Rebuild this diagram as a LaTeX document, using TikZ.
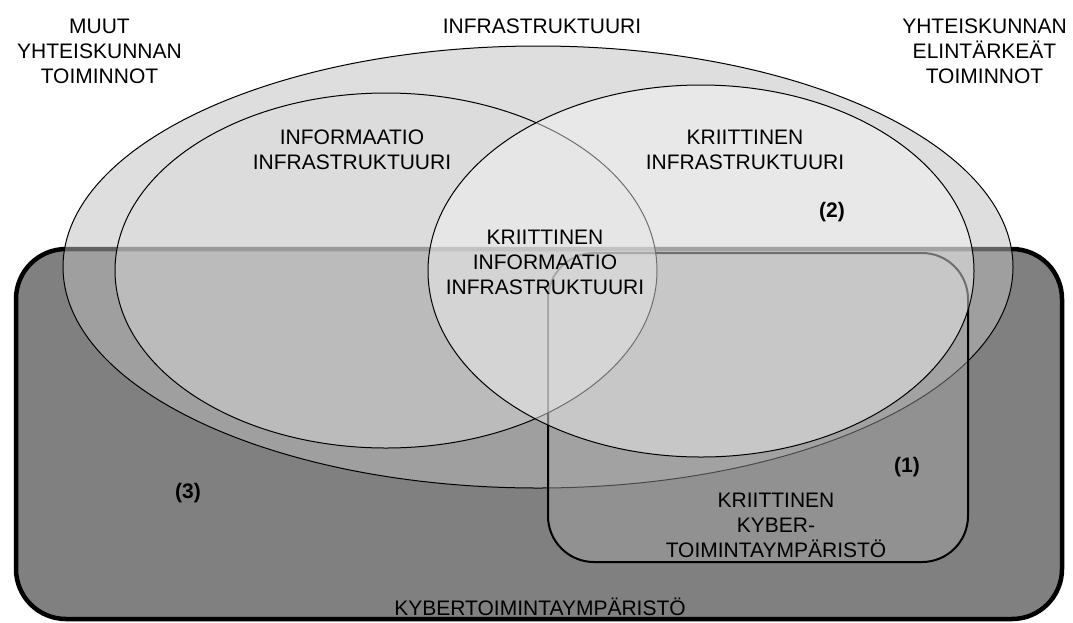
\documentclass[tikz,border=0pt]{standalone}
\usepackage{fontspec}
\setmainfont{Liberation Sans}
\definecolor{cyberfill}{gray}{0.5}
\definecolor{infrafill}{gray}{0.745}
\definecolor{critcyberfill}{gray}{0.655}
\definecolor{infofill}{gray}{0.855}
\definecolor{critfill}{gray}{0.953}
\begin{document}
\begin{tikzpicture}[x=1pt,y=-1pt,
  lbl/.style={align=center,font=\fontsize{21}{25}\selectfont,inner sep=0pt},
  tag/.style={font=\fontsize{21}{25}\selectfont\bfseries,inner sep=0pt},
  setline/.style={draw=black,line width=1pt},
]
\useasboundingbox (0,0) rectangle (1073,622);

% cyber operating environment (bottom layer)
\draw[line width=4.5pt,rounded corners=50pt,fill=cyberfill] (16,249) rectangle (1062,619);

% infrastructure
\draw[setline,fill=infrafill,fill opacity=0.51] (538,267) ellipse [x radius=475pt,y radius=221pt];

% critical cyber operating environment
\draw[line width=2pt,rounded corners=46pt,fill=critcyberfill,fill opacity=0.44] (548,253) rectangle (968,562);

% information infrastructure
\draw[setline,fill=infofill,fill opacity=0.484] (386,270.5) ellipse [x radius=271pt,y radius=177.5pt];

% critical infrastructure
\draw[setline,fill=critfill,fill opacity=0.46] (701,271) ellipse [x radius=273pt,y radius=186pt];

% labels
\node[lbl] (muut) at (99.5,51) {MUUT\\YHTEISKUNNAN\\TOIMINNOT};
\node[lbl] (infra) at (542,26) {INFRASTRUKTUURI};
\node[lbl] (elint) at (984.5,51) {YHTEISKUNNAN\\ELINTÄRKEÄT\\TOIMINNOT};
\node[lbl] (info) at (352,149.5) {INFORMAATIO\\INFRASTRUKTUURI};
\node[lbl] (krit) at (745,149.5) {KRIITTINEN\\INFRASTRUKTUURI};
\node[tag] (two) at (832,212) {(2)};
\node[lbl] (kritinfo) at (545,262) {KRIITTINEN\\INFORMAATIO\\INFRASTRUKTUURI};
\node[tag] (one) at (907,467) {(1)};
\node[lbl] (kritkyber) at (776,525) {KRIITTINEN\\KYBER-\\TOIMINTAYMPÄRISTÖ};
\node[tag] (three) at (188,493) {(3)};
\node[lbl] (kyber) at (540,607) {KYBERTOIMINTAYMPÄRISTÖ};
\end{tikzpicture}
\end{document}
